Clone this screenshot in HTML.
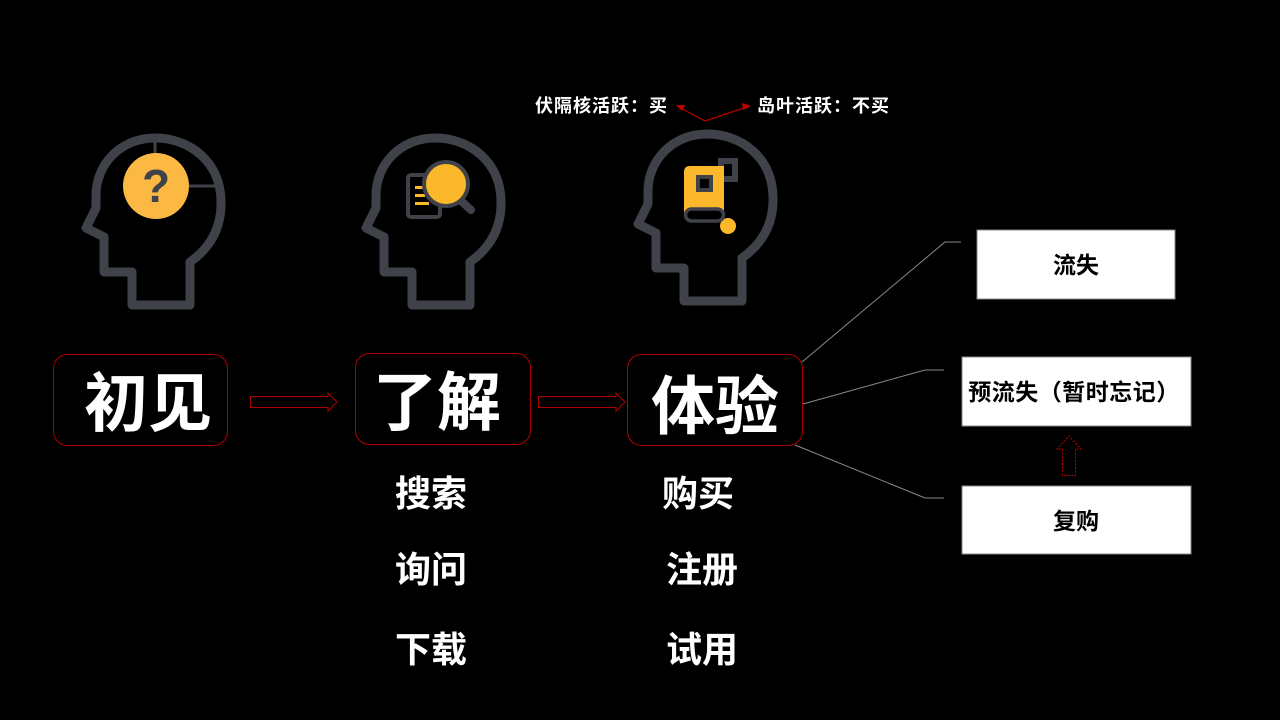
<!DOCTYPE html>
<html><head><meta charset="utf-8"><style>
html,body{margin:0;padding:0;background:#000;}
svg{display:block;}
text{font-family:"Liberation Sans","Noto Sans CJK SC",sans-serif;font-weight:bold;}
</style></head><body>
<svg width="1280" height="720" viewBox="0 0 1280 720" xmlns="http://www.w3.org/2000/svg">
<rect width="1280" height="720" fill="#000"/>
<defs>
<path id="head" d="M190,305 L190,262 C210,248 222,228 221,200 C220,162 190,138 155,138 C120,138 96,165 96,195 L96,208 L86,228 L104,237 L104,272 L132,272 L132,305 Z" fill="none" stroke="#3f4248" stroke-width="9" stroke-linejoin="round"/>
</defs>
<!-- head 1 -->
<use href="#head"/>
<line x1="155" y1="138" x2="155" y2="154" stroke="#3f4248" stroke-width="3"/>
<line x1="188" y1="186" x2="218" y2="186" stroke="#3f4248" stroke-width="3"/>
<circle cx="156" cy="186" r="33" fill="#fbb843"/>
<text x="156" y="202" font-size="46" fill="#3f4248" text-anchor="middle">?</text>
<!-- head 2 -->
<use href="#head" transform="translate(280,0)"/>
<rect x="408" y="175" width="32" height="42" rx="3" fill="none" stroke="#3f4248" stroke-width="4"/>
<rect x="415" y="186" width="8" height="3" fill="#fbb82a"/>
<rect x="415" y="194" width="10" height="3" fill="#fbb82a"/>
<rect x="415" y="202" width="14" height="3" fill="#fbb82a"/>
<line x1="458" y1="198" x2="471" y2="210" stroke="#3f4248" stroke-width="8" stroke-linecap="round"/>
<circle cx="446" cy="184" r="22" fill="#fbb82a" stroke="#3f4248" stroke-width="4"/>
<!-- head 3 -->
<use href="#head" transform="translate(552,-4)"/>
<rect x="721" y="161" width="14" height="18" fill="#000" stroke="#3f4248" stroke-width="6"/>
<path d="M690,166 L724,166 L724,214 L684,214 L684,172 Q684,166 690,166 Z" fill="#fbb82a"/>
<rect x="698" y="177" width="13" height="13" fill="#000" stroke="#3f4248" stroke-width="4"/>
<circle cx="728" cy="226" r="8" fill="#fbb82a"/>
<rect x="685.5" y="209" width="38" height="12" rx="6" fill="#000" stroke="#3f4248" stroke-width="3.5"/>
<!-- top labels -->
<text x="535" y="112" font-size="18" fill="#fff" letter-spacing="1">伏隔核活跃：买</text>
<text x="757" y="112" font-size="18" fill="#fff" letter-spacing="1">岛叶活跃：不买</text>
<polyline points="677,106 705,121 750,106" fill="none" stroke="#c00000" stroke-width="1.2"/>
<polygon points="676,105 685,105 682,111" fill="#c00000"/>
<polygon points="751,106 742,103 743,110" fill="#c00000"/>
<!-- main boxes -->
<rect x="53.5" y="354.5" width="174" height="91" rx="14" fill="none" stroke="#b00000" stroke-width="1"/>
<rect x="355.5" y="353.5" width="175" height="91" rx="14" fill="none" stroke="#b00000" stroke-width="1"/>
<rect x="627.5" y="354.5" width="175" height="91" rx="14" fill="none" stroke="#b00000" stroke-width="1"/>
<text x="148" y="426" font-size="64" fill="#fff" text-anchor="middle">初见</text>
<text x="437" y="425" font-size="64" fill="#fff" text-anchor="middle">了解</text>
<text x="715" y="429" font-size="64" fill="#fff" text-anchor="middle">体验</text>
<!-- hollow arrows -->
<polygon points="250.5,396.5 328,396.5 328,393 337,402 328,411 328,407.5 250.5,407.5" fill="none" stroke="#b00000" stroke-width="1"/>
<polygon points="538.5,396.5 616,396.5 616,393 625,402 616,411 616,407.5 538.5,407.5" fill="none" stroke="#b00000" stroke-width="1"/>
<!-- lists -->
<g font-size="36" fill="#fff">
<text x="395" y="506">搜索</text>
<text x="395" y="582">询问</text>
<text x="395" y="662">下载</text>
<text x="662" y="506">购买</text>
<text x="666" y="582">注册</text>
<text x="666" y="662">试用</text>
</g>
<!-- connector lines -->
<g stroke="#8a8a8a" stroke-width="1" fill="none">
<polyline points="802,362 945,242 961,242"/>
<polyline points="803,404 925,370 944,370"/>
<polyline points="795,445 925,498 944,498"/>
</g>
<!-- right boxes -->
<rect x="977" y="230" width="198" height="69" fill="#fff" stroke="#888" stroke-width="1"/>
<rect x="962" y="357" width="229" height="69" fill="#fff" stroke="#888" stroke-width="1"/>
<rect x="962" y="486" width="229" height="68" fill="#fff" stroke="#888" stroke-width="1"/>
<text x="1076" y="273" font-size="23" fill="#000" text-anchor="middle">流失</text>
<text x="1074" y="400" font-size="23" fill="#000" text-anchor="middle" letter-spacing="0.5">预流失（暂时忘记）</text>
<text x="1076" y="529" font-size="23" fill="#000" text-anchor="middle">复购</text>
<polygon points="1062.5,475.5 1062.5,449 1057,449 1069,436 1081,449 1075.5,449 1075.5,475.5" fill="none" stroke="#c00000" stroke-width="1" stroke-dasharray="2,1.5"/>
</svg>
</body></html>
